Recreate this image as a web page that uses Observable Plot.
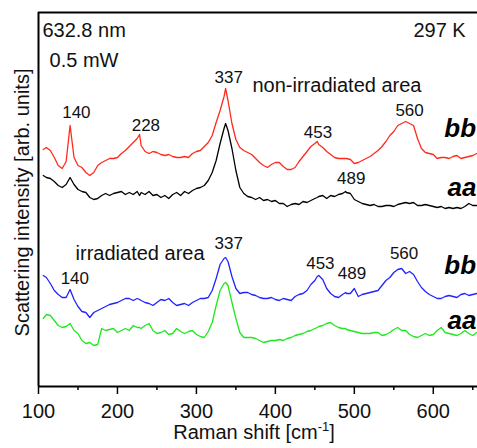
<!DOCTYPE html>
<html><head><meta charset="utf-8">
<script src="https://cdn.jsdelivr.net/npm/d3@7"></script>
<script src="https://cdn.jsdelivr.net/npm/@observablehq/plot@0.6"></script>
<style>
html,body{margin:0;padding:0;background:#fff;overflow:hidden;}
#chart{width:477px;height:448px;overflow:hidden;}
</style></head><body><div id="chart"></div>
<script>
// Raman shift grid (cm^-1)
const shift = [106,110,115,120,125,130,135,140,145,150,155,160,165,170,175,180,185,190,195,200,205,210,215,220,225,228,230,235,240,245,250,255,260,265,270,275,280,285,290,295,300,305,310,315,320,325,330,335,337,340,345,350,355,360,365,370,375,380,385,390,395,400,405,410,415,420,425,430,435,440,445,450,453,455,460,465,470,475,480,485,489,490,495,500,505,510,515,520,525,530,535,540,545,550,555,560,565,570,575,580,585,590,595,600,605,610,615,620,625,630,635,640,645,650,655];

// Scattering intensity (arb. units, curves offset as in the figure)
const bbNonIrradiated = [237,239,236,229,221,218,225,261,229,221,219,214,211,214,221,224,226,228,228,229,233,236,240,244,248,252,241,235,233,235,234,232,231,232,230,229,229,230,229,233,235,236,240,244,251,264,276,290,298,286,263,247,239,236,234,232,228,224,221,219,222,224,224,220,217,217,219,225,230,235,240,243,245,242,239,235,232,229,228,228,228,228,227,223,224,226,228,230,233,236,240,245,251,255,261,263,265,263,261,248,238,234,233,232,228,229,229,228,230,231,228,229,230,231,233];
const aaNonIrradiated = [211,209,208,205,201,199,202,209,202,197,195,194,189,187,188,191,193,191,193,194,195,192,194,192,195,191,194,192,195,191,192,189,191,188,192,194,191,195,193,196,198,199,201,206,214,226,243,258,263,256,238,216,199,193,190,189,187,189,186,187,185,186,183,183,180,182,183,182,185,184,186,188,189,190,191,188,191,190,192,193,195,194,193,187,185,183,182,181,182,180,180,181,181,180,182,183,184,183,184,181,181,182,181,180,179,180,178,179,178,179,178,180,183,181,181];
const bbIrradiated = [111,109,103,96,92,89,89,97,87,80,75,74,69,74,76,78,80,82,83,84,86,88,88,86,88,87,86,84,83,81,84,87,86,88,84,81,82,83,81,84,86,88,88,89,96,108,122,128,129,125,110,98,93,94,94,92,91,89,88,88,89,87,86,88,87,86,90,92,93,96,102,106,110,111,107,98,93,90,89,92,94,93,93,98,90,92,93,94,95,96,101,106,109,114,117,118,113,115,112,105,99,95,92,90,88,88,90,91,90,89,92,93,91,92,93];
const aaIrradiated = [68,72,71,66,61,59,60,63,56,53,46,43,44,41,42,58,56,57,58,54,56,58,56,61,59,59,58,61,63,56,53,54,56,52,53,58,55,53,55,56,52,50,49,55,64,81,96,103,104,101,84,68,54,49,49,49,48,46,44,45,46,46,47,46,48,49,51,52,53,55,56,58,59,60,61,63,64,61,59,58,58,57,56,55,54,53,53,53,54,54,51,52,54,57,59,56,56,52,50,49,51,53,51,52,56,59,54,53,52,51,53,56,53,51,54];

const seriesNames = ["bb non-irradiated","aa non-irradiated","bb irradiated","aa irradiated"];
const seriesValues = [bbNonIrradiated, aaNonIrradiated, bbIrradiated, aaIrradiated];

const majorTicks = [100,200,300,400,500,600];
const minorTicks = [150,250,350,450,550,650];

// Peak annotations: text, shift, level
const peakText  = ["140","228","337","453","489","560","140","337","453","489","560"];
const peakShift = [148,236,341,454,496,570,146,341,457,497,563];
const peakLevel = [274,261,309,254,208,276,108,143,123,113,133];

// Polarisation labels
const polText  = ["bb","aa","bb","aa"];
const polShift = [614,618,614,618];
const polLevel = [258,199,121,66];

// Other notes (left-anchored) and the temperature (right-anchored)
const noteText  = ["632.8 nm","0.5 mW","non-irradiated area","irradiated area"];
const noteShift = [105,114,371,147];
const noteLevel = [356,326,301,133];
const tempText = ["297 K"];
const tempShift = [641];
const tempLevel = [356];

const rows = [];
seriesNames.forEach((n, i) => seriesValues[i].forEach((v, j) => rows.push({shift: shift[j], intensity: v, series: n})));
const peaks = peakText.map((t, i) => ({t, x: peakShift[i], y: peakLevel[i]}));
const pols = polText.map((t, i) => ({t, x: polShift[i], y: polLevel[i]}));
const notes = noteText.map((t, i) => ({t, x: noteShift[i], y: noteLevel[i]}));
const temps = tempText.map((t, i) => ({t, x: tempShift[i], y: tempLevel[i]}));

const font = "'Liberation Sans', Arial, Helvetica, sans-serif";
const plot = Plot.plot({
  width: 477, height: 448,
  marginTop: 12, marginBottom: 62, marginLeft: 38, marginRight: 0,
  x: {domain: [100, 656], label: null},
  y: {domain: [0, 374], axis: null, label: null},
  color: {domain: seriesNames, range: ["#ff2a1c", "#000000", "#2222ff", "#1ee81e"]},
  style: {fontFamily: font, fontSize: "20px", background: "#fff", color: "#000", overflow: "hidden"},
  marks: [
    Plot.lineY(rows, {x: "shift", y: "intensity", z: "series", stroke: "series", strokeWidth: 1.3}),
    Plot.axisX(minorTicks, {tickSize: 4, text: null, strokeWidth: 1.5, label: null}),
    Plot.axisX(majorTicks, {tickSize: 8, tickPadding: 9, fontSize: 20, strokeWidth: 1.5, label: null, fill: "#111"}),
    Plot.ruleY([0], {strokeWidth: 2}),
    Plot.ruleY([374], {strokeWidth: 2}),
    Plot.ruleX([100], {strokeWidth: 2}),
    Plot.text(peaks, {x: "x", y: "y", text: "t", fontSize: 17, fill: "#111"}),
    Plot.text(pols, {x: "x", y: "y", text: "t", fontSize: 26, fontWeight: "bold", fontStyle: "italic", textAnchor: "start", fill: "#000"}),
    Plot.text(notes, {x: "x", y: "y", text: "t", textAnchor: "start", fontSize: 20, fill: "#111"}),
    Plot.text(temps, {x: "x", y: "y", text: "t", textAnchor: "end", fontSize: 20, fill: "#111"}),
    Plot.text(["Scattering intensity [arb. units]"], {frameAnchor: "left", textAnchor: "middle", dx: -16, dy: 3, rotate: -90, fontSize: 20, fill: "#111"}),
    Plot.text(["Raman shift [cm-1]"], {x: [373], frameAnchor: "bottom", dy: 52, fontSize: 20, fill: "#111"})
  ]
});
document.getElementById("chart").appendChild(plot);

// superscript for the unit
d3.select(plot).selectAll("text").each(function() {
  if (this.textContent === "Raman shift [cm-1]") {
    const t = d3.select(this);
    t.text(null);
    t.append("tspan").text("Raman shift [cm");
    t.append("tspan").attr("dy", "-8").attr("font-size", "13").text("-1");
    t.append("tspan").attr("dy", "8").text("]");
  }
});
</script></body></html>
